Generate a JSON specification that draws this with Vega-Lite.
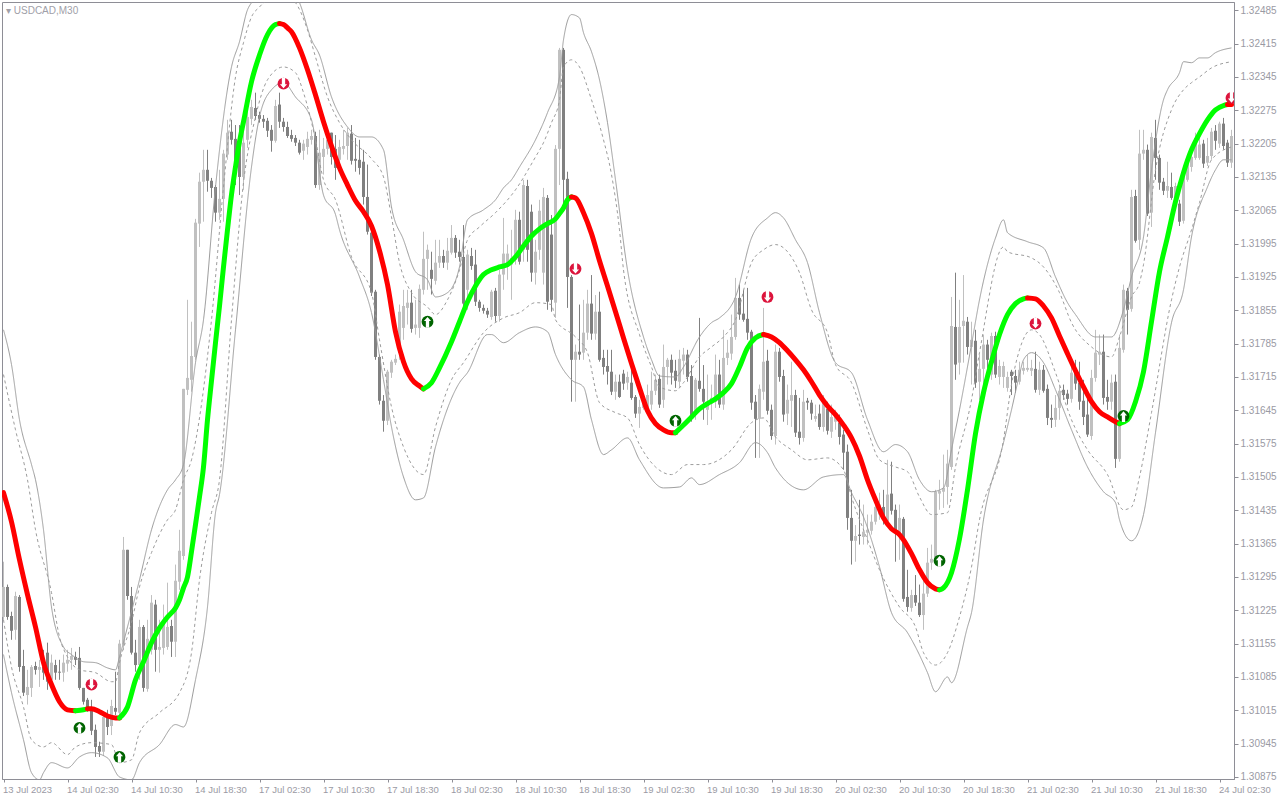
{"$schema":"https://vega.github.io/schema/vega-lite/v6.json","width":1232,"height":777,"autosize":{"type":"none"},"padding":{"left":2,"top":2,"right":46,"bottom":21},"background":"white","config":{"view":{"stroke":"#8e8e96","strokeWidth":1},"axis":{"labelOverlap":false,"labelSeparation":0}},"title":{"text":"▾  USDCAD,M30","anchor":"start","frame":"group","orient":"top","offset":-14,"dx":4,"font":"Liberation Sans","fontSize":10,"fontWeight":"normal","color":"#a0a0a8"},
"datasets":{"candles":[
{"i":0,"o":1.31211,"h":1.31327,"l":1.31205,"c":1.31274},{"i":1,"o":1.31274,"h":1.31279,"l":1.31205,"c":1.31211},{"i":2,"o":1.31213,"h":1.31222,"l":1.31163,"c":1.31182},{"i":3,"o":1.31184,"h":1.31264,"l":1.31163,"c":1.31255},{"i":4,"o":1.31253,"h":1.31257,"l":1.31096,"c":1.31106},{"i":5,"o":1.31108,"h":1.31142,"l":1.31045,"c":1.31052},{"i":6,"o":1.31047,"h":1.31100,"l":1.31027,"c":1.31064},{"i":7,"o":1.31062,"h":1.31110,"l":1.31043,"c":1.31106},{"i":8,"o":1.31108,"h":1.31117,"l":1.31090,"c":1.31100},{"i":9,"o":1.31100,"h":1.31121,"l":1.31064,"c":1.31106},
{"i":10,"o":1.31106,"h":1.31142,"l":1.31079,"c":1.31094},{"i":11,"o":1.31136,"h":1.31157,"l":1.31058,"c":1.31075},{"i":12,"o":1.31079,"h":1.31132,"l":1.31058,"c":1.31115},{"i":13,"o":1.31110,"h":1.31121,"l":1.31079,"c":1.31094},{"i":14,"o":1.31096,"h":1.31121,"l":1.31079,"c":1.31094},{"i":15,"o":1.31094,"h":1.31132,"l":1.31075,"c":1.31115},{"i":16,"o":1.31113,"h":1.31142,"l":1.31096,"c":1.31121},{"i":17,"o":1.31121,"h":1.31146,"l":1.31100,"c":1.31129},{"i":18,"o":1.31127,"h":1.31138,"l":1.31110,"c":1.31121},{"i":19,"o":1.31125,"h":1.31148,"l":1.31058,"c":1.31062},
{"i":20,"o":1.31062,"h":1.31062,"l":1.31027,"c":1.31033},{"i":21,"o":1.31037,"h":1.31041,"l":1.31012,"c":1.31016},{"i":22,"o":1.31022,"h":1.31037,"l":1.30963,"c":1.30972},{"i":23,"o":1.30974,"h":1.30985,"l":1.30917,"c":1.30938},{"i":24,"o":1.30940,"h":1.30949,"l":1.30917,"c":1.30928},{"i":25,"o":1.30928,"h":1.31012,"l":1.30919,"c":1.31001},{"i":26,"o":1.30999,"h":1.31016,"l":1.30963,"c":1.30980},{"i":27,"o":1.30982,"h":1.31037,"l":1.30963,"c":1.31024},{"i":28,"o":1.31020,"h":1.31096,"l":1.31005,"c":1.31012},{"i":29,"o":1.31010,"h":1.31163,"l":1.31001,"c":1.31155},
{"i":30,"o":1.31153,"h":1.31379,"l":1.31142,"c":1.31352},{"i":31,"o":1.31352,"h":1.31352,"l":1.31247,"c":1.31255},{"i":32,"o":1.31255,"h":1.31274,"l":1.31132,"c":1.31136},{"i":33,"o":1.31136,"h":1.31163,"l":1.31096,"c":1.31110},{"i":34,"o":1.31110,"h":1.31205,"l":1.31079,"c":1.31190},{"i":35,"o":1.31190,"h":1.31194,"l":1.31054,"c":1.31062},{"i":36,"o":1.31060,"h":1.31205,"l":1.31054,"c":1.31165},{"i":37,"o":1.31142,"h":1.31257,"l":1.31132,"c":1.31241},{"i":38,"o":1.31237,"h":1.31247,"l":1.31096,"c":1.31142},{"i":39,"o":1.31142,"h":1.31205,"l":1.31094,"c":1.31148},
{"i":40,"o":1.31146,"h":1.31237,"l":1.31132,"c":1.31205},{"i":41,"o":1.31148,"h":1.31283,"l":1.31142,"c":1.31190},{"i":42,"o":1.31192,"h":1.31205,"l":1.31127,"c":1.31159},{"i":43,"o":1.31159,"h":1.31321,"l":1.31127,"c":1.31287},{"i":44,"o":1.31285,"h":1.31394,"l":1.31268,"c":1.31350},{"i":45,"o":1.31339,"h":1.31690,"l":1.31331,"c":1.31690},{"i":46,"o":1.31688,"h":1.31877,"l":1.31677,"c":1.31713},{"i":47,"o":1.31709,"h":1.31831,"l":1.31684,"c":1.31759},{"i":48,"o":1.31757,"h":1.32047,"l":1.31751,"c":1.32039},{"i":49,"o":1.32037,"h":1.32144,"l":1.31988,"c":1.32125},
{"i":50,"o":1.32125,"h":1.32192,"l":1.32041,"c":1.32150},{"i":51,"o":1.32150,"h":1.32192,"l":1.32104,"c":1.32127},{"i":52,"o":1.32127,"h":1.32133,"l":1.32091,"c":1.32112},{"i":53,"o":1.32114,"h":1.32118,"l":1.32041,"c":1.32060},{"i":54,"o":1.32060,"h":1.32150,"l":1.32045,"c":1.32089},{"i":55,"o":1.32089,"h":1.32192,"l":1.32041,"c":1.32184},{"i":56,"o":1.32182,"h":1.32255,"l":1.32171,"c":1.32228},{"i":57,"o":1.32230,"h":1.32255,"l":1.32203,"c":1.32213},{"i":58,"o":1.32215,"h":1.32244,"l":1.32118,"c":1.32171},{"i":59,"o":1.32209,"h":1.32244,"l":1.32097,"c":1.32135},
{"i":60,"o":1.32135,"h":1.32244,"l":1.32108,"c":1.32207},{"i":61,"o":1.32213,"h":1.32297,"l":1.32196,"c":1.32261},{"i":62,"o":1.32257,"h":1.32297,"l":1.32244,"c":1.32282},{"i":63,"o":1.32280,"h":1.32312,"l":1.32255,"c":1.32263},{"i":64,"o":1.32265,"h":1.32272,"l":1.32249,"c":1.32257},{"i":65,"o":1.32257,"h":1.32265,"l":1.32238,"c":1.32251},{"i":66,"o":1.32253,"h":1.32259,"l":1.32219,"c":1.32232},{"i":67,"o":1.32234,"h":1.32244,"l":1.32188,"c":1.32211},{"i":68,"o":1.32211,"h":1.32297,"l":1.32207,"c":1.32284},{"i":69,"o":1.32287,"h":1.32312,"l":1.32238,"c":1.32251},
{"i":70,"o":1.32251,"h":1.32259,"l":1.32230,"c":1.32240},{"i":71,"o":1.32240,"h":1.32251,"l":1.32217,"c":1.32221},{"i":72,"o":1.32223,"h":1.32234,"l":1.32209,"c":1.32215},{"i":73,"o":1.32217,"h":1.32223,"l":1.32200,"c":1.32207},{"i":74,"o":1.32207,"h":1.32213,"l":1.32182,"c":1.32186},{"i":75,"o":1.32190,"h":1.32213,"l":1.32171,"c":1.32205},{"i":76,"o":1.32198,"h":1.32230,"l":1.32182,"c":1.32215},{"i":77,"o":1.32213,"h":1.32234,"l":1.32203,"c":1.32221},{"i":78,"o":1.32221,"h":1.32230,"l":1.32112,"c":1.32118},{"i":79,"o":1.32118,"h":1.32234,"l":1.32108,"c":1.32186},
{"i":80,"o":1.32177,"h":1.32217,"l":1.32140,"c":1.32194},{"i":81,"o":1.32194,"h":1.32234,"l":1.32182,"c":1.32213},{"i":82,"o":1.32228,"h":1.32228,"l":1.32161,"c":1.32177},{"i":83,"o":1.32194,"h":1.32223,"l":1.32129,"c":1.32154},{"i":84,"o":1.32171,"h":1.32213,"l":1.32146,"c":1.32198},{"i":85,"o":1.32194,"h":1.32234,"l":1.32182,"c":1.32200},{"i":86,"o":1.32200,"h":1.32238,"l":1.32171,"c":1.32228},{"i":87,"o":1.32226,"h":1.32244,"l":1.32161,"c":1.32169},{"i":88,"o":1.32173,"h":1.32217,"l":1.32146,"c":1.32169},{"i":89,"o":1.32171,"h":1.32213,"l":1.32140,"c":1.32154},
{"i":90,"o":1.32167,"h":1.32192,"l":1.32077,"c":1.32093},{"i":91,"o":1.32093,"h":1.32161,"l":1.32014,"c":1.32020},{"i":92,"o":1.32018,"h":1.32024,"l":1.31885,"c":1.31892},{"i":93,"o":1.31894,"h":1.31898,"l":1.31751,"c":1.31757},{"i":94,"o":1.31757,"h":1.31762,"l":1.31657,"c":1.31665},{"i":95,"o":1.31665,"h":1.31677,"l":1.31600,"c":1.31623},{"i":96,"o":1.31623,"h":1.31730,"l":1.31614,"c":1.31726},{"i":97,"o":1.31724,"h":1.31751,"l":1.31713,"c":1.31747},{"i":98,"o":1.31745,"h":1.31762,"l":1.31740,"c":1.31753},{"i":99,"o":1.31766,"h":1.31867,"l":1.31751,"c":1.31852},
{"i":100,"o":1.31818,"h":1.31898,"l":1.31793,"c":1.31864},{"i":101,"o":1.31860,"h":1.31898,"l":1.31825,"c":1.31871},{"i":102,"o":1.31871,"h":1.31898,"l":1.31808,"c":1.31816},{"i":103,"o":1.31818,"h":1.31877,"l":1.31804,"c":1.31825},{"i":104,"o":1.31818,"h":1.31909,"l":1.31797,"c":1.31900},{"i":105,"o":1.31898,"h":1.32020,"l":1.31888,"c":1.31963},{"i":106,"o":1.31963,"h":1.31993,"l":1.31898,"c":1.31982},{"i":107,"o":1.31940,"h":1.31978,"l":1.31888,"c":1.31921},{"i":108,"o":1.31917,"h":1.32003,"l":1.31909,"c":1.31955},{"i":109,"o":1.31955,"h":1.32003,"l":1.31944,"c":1.31969},
{"i":110,"o":1.31969,"h":1.31982,"l":1.31944,"c":1.31955},{"i":111,"o":1.31955,"h":1.32007,"l":1.31940,"c":1.31980},{"i":112,"o":1.31976,"h":1.32034,"l":1.31972,"c":1.32007},{"i":113,"o":1.32007,"h":1.32013,"l":1.31965,"c":1.31976},{"i":114,"o":1.31978,"h":1.32003,"l":1.31957,"c":1.31967},{"i":115,"o":1.31967,"h":1.32034,"l":1.31864,"c":1.31869},{"i":116,"o":1.31898,"h":1.31982,"l":1.31856,"c":1.31972},{"i":117,"o":1.31969,"h":1.31986,"l":1.31940,"c":1.31948},{"i":118,"o":1.31951,"h":1.31982,"l":1.31864,"c":1.31873},{"i":119,"o":1.31873,"h":1.31877,"l":1.31852,"c":1.31860},
{"i":120,"o":1.31860,"h":1.31867,"l":1.31848,"c":1.31854},{"i":121,"o":1.31854,"h":1.31860,"l":1.31839,"c":1.31846},{"i":122,"o":1.31841,"h":1.31898,"l":1.31835,"c":1.31894},{"i":123,"o":1.31896,"h":1.31902,"l":1.31831,"c":1.31843},{"i":124,"o":1.31843,"h":1.31940,"l":1.31831,"c":1.31930},{"i":125,"o":1.31930,"h":1.32049,"l":1.31898,"c":1.31974},{"i":126,"o":1.31946,"h":1.31993,"l":1.31919,"c":1.31974},{"i":127,"o":1.31951,"h":1.32024,"l":1.31877,"c":1.31965},{"i":128,"o":1.31961,"h":1.32066,"l":1.31951,"c":1.32045},{"i":129,"o":1.32045,"h":1.32062,"l":1.31951,"c":1.31957},
{"i":130,"o":1.31982,"h":1.32129,"l":1.31957,"c":1.32118},{"i":131,"o":1.32116,"h":1.32129,"l":1.31957,"c":1.31982},{"i":132,"o":1.32062,"h":1.32077,"l":1.31915,"c":1.31934},{"i":133,"o":1.31934,"h":1.32003,"l":1.31909,"c":1.31978},{"i":134,"o":1.31982,"h":1.32087,"l":1.31961,"c":1.32064},{"i":135,"o":1.31934,"h":1.32112,"l":1.31909,"c":1.32093},{"i":136,"o":1.32091,"h":1.32097,"l":1.31856,"c":1.31873},{"i":137,"o":1.32014,"h":1.32055,"l":1.31852,"c":1.31877},{"i":138,"o":1.31871,"h":1.32202,"l":1.31839,"c":1.32194},{"i":139,"o":1.32194,"h":1.32406,"l":1.32118,"c":1.32402},
{"i":140,"o":1.32402,"h":1.32406,"l":1.32077,"c":1.32129},{"i":141,"o":1.32131,"h":1.32146,"l":1.31860,"c":1.31925},{"i":142,"o":1.31925,"h":1.31929,"l":1.31663,"c":1.31751},{"i":143,"o":1.31751,"h":1.31783,"l":1.31663,"c":1.31768},{"i":144,"o":1.31768,"h":1.31867,"l":1.31751,"c":1.31762},{"i":145,"o":1.31766,"h":1.31877,"l":1.31751,"c":1.31808},{"i":146,"o":1.31808,"h":1.31898,"l":1.31793,"c":1.31869},{"i":147,"o":1.31869,"h":1.31929,"l":1.31793,"c":1.31806},{"i":148,"o":1.31806,"h":1.31887,"l":1.31793,"c":1.31852},{"i":149,"o":1.31852,"h":1.31894,"l":1.31747,"c":1.31751},
{"i":150,"o":1.31755,"h":1.31772,"l":1.31720,"c":1.31736},{"i":151,"o":1.31738,"h":1.31772,"l":1.31699,"c":1.31726},{"i":152,"o":1.31726,"h":1.31772,"l":1.31677,"c":1.31684},{"i":153,"o":1.31684,"h":1.31720,"l":1.31667,"c":1.31705},{"i":154,"o":1.31705,"h":1.31720,"l":1.31671,"c":1.31673},{"i":155,"o":1.31722,"h":1.31730,"l":1.31688,"c":1.31701},{"i":156,"o":1.31703,"h":1.31726,"l":1.31688,"c":1.31715},{"i":157,"o":1.31703,"h":1.31730,"l":1.31667,"c":1.31671},{"i":158,"o":1.31673,"h":1.31677,"l":1.31629,"c":1.31638},{"i":159,"o":1.31638,"h":1.31667,"l":1.31608,"c":1.31652},
{"i":160,"o":1.31650,"h":1.31677,"l":1.31646,"c":1.31661},{"i":161,"o":1.31652,"h":1.31699,"l":1.31646,"c":1.31677},{"i":162,"o":1.31657,"h":1.31726,"l":1.31646,"c":1.31686},{"i":163,"o":1.31686,"h":1.31720,"l":1.31677,"c":1.31709},{"i":164,"o":1.31711,"h":1.31720,"l":1.31650,"c":1.31657},{"i":165,"o":1.31667,"h":1.31783,"l":1.31650,"c":1.31736},{"i":166,"o":1.31736,"h":1.31755,"l":1.31699,"c":1.31751},{"i":167,"o":1.31751,"h":1.31762,"l":1.31699,"c":1.31724},{"i":168,"o":1.31728,"h":1.31751,"l":1.31692,"c":1.31707},{"i":169,"o":1.31705,"h":1.31772,"l":1.31692,"c":1.31753},
{"i":170,"o":1.31749,"h":1.31776,"l":1.31720,"c":1.31762},{"i":171,"o":1.31762,"h":1.31772,"l":1.31705,"c":1.31715},{"i":172,"o":1.31717,"h":1.31740,"l":1.31621,"c":1.31631},{"i":173,"o":1.31642,"h":1.31713,"l":1.31625,"c":1.31709},{"i":174,"o":1.31707,"h":1.31839,"l":1.31684,"c":1.31690},{"i":175,"o":1.31690,"h":1.31740,"l":1.31625,"c":1.31663},{"i":176,"o":1.31646,"h":1.31720,"l":1.31614,"c":1.31663},{"i":177,"o":1.31659,"h":1.31699,"l":1.31625,"c":1.31671},{"i":178,"o":1.31663,"h":1.31762,"l":1.31650,"c":1.31720},{"i":179,"o":1.31720,"h":1.31751,"l":1.31650,"c":1.31657},
{"i":180,"o":1.31657,"h":1.31814,"l":1.31646,"c":1.31755},{"i":181,"o":1.31755,"h":1.31793,"l":1.31740,"c":1.31766},{"i":182,"o":1.31764,"h":1.31846,"l":1.31751,"c":1.31799},{"i":183,"o":1.31799,"h":1.31923,"l":1.31793,"c":1.31881},{"i":184,"o":1.31881,"h":1.31909,"l":1.31835,"c":1.31846},{"i":185,"o":1.31848,"h":1.31898,"l":1.31831,"c":1.31835},{"i":186,"o":1.31837,"h":1.31902,"l":1.31793,"c":1.31808},{"i":187,"o":1.31810,"h":1.31814,"l":1.31646,"c":1.31661},{"i":188,"o":1.31663,"h":1.31677,"l":1.31545,"c":1.31627},{"i":189,"o":1.31627,"h":1.31699,"l":1.31545,"c":1.31690},
{"i":190,"o":1.31684,"h":1.31860,"l":1.31667,"c":1.31747},{"i":191,"o":1.31749,"h":1.31772,"l":1.31636,"c":1.31644},{"i":192,"o":1.31646,"h":1.31657,"l":1.31583,"c":1.31591},{"i":193,"o":1.31591,"h":1.31783,"l":1.31573,"c":1.31768},{"i":194,"o":1.31768,"h":1.31776,"l":1.31705,"c":1.31715},{"i":195,"o":1.31717,"h":1.31730,"l":1.31621,"c":1.31636},{"i":196,"o":1.31638,"h":1.31699,"l":1.31614,"c":1.31667},{"i":197,"o":1.31665,"h":1.31747,"l":1.31610,"c":1.31677},{"i":198,"o":1.31677,"h":1.31688,"l":1.31589,"c":1.31598},{"i":199,"o":1.31600,"h":1.31671,"l":1.31573,"c":1.31587},
{"i":200,"o":1.31587,"h":1.31688,"l":1.31579,"c":1.31663},{"i":201,"o":1.31665,"h":1.31671,"l":1.31646,"c":1.31661},{"i":202,"o":1.31661,"h":1.31667,"l":1.31625,"c":1.31638},{"i":203,"o":1.31627,"h":1.31657,"l":1.31621,"c":1.31633},{"i":204,"o":1.31638,"h":1.31657,"l":1.31604,"c":1.31610},{"i":205,"o":1.31610,"h":1.31677,"l":1.31600,"c":1.31661},{"i":206,"o":1.31648,"h":1.31663,"l":1.31594,"c":1.31602},{"i":207,"o":1.31600,"h":1.31657,"l":1.31587,"c":1.31631},{"i":208,"o":1.31621,"h":1.31646,"l":1.31604,"c":1.31631},{"i":209,"o":1.31619,"h":1.31636,"l":1.31573,"c":1.31589},
{"i":210,"o":1.31594,"h":1.31604,"l":1.31520,"c":1.31556},{"i":211,"o":1.31558,"h":1.31573,"l":1.31394,"c":1.31419},{"i":212,"o":1.31419,"h":1.31478,"l":1.31321,"c":1.31371},{"i":213,"o":1.31371,"h":1.31404,"l":1.31327,"c":1.31381},{"i":214,"o":1.31384,"h":1.31457,"l":1.31363,"c":1.31381},{"i":215,"o":1.31379,"h":1.31447,"l":1.31363,"c":1.31390},{"i":216,"o":1.31388,"h":1.31426,"l":1.31363,"c":1.31394},{"i":217,"o":1.31392,"h":1.31426,"l":1.31384,"c":1.31411},{"i":218,"o":1.31411,"h":1.31468,"l":1.31405,"c":1.31442},{"i":219,"o":1.31426,"h":1.31472,"l":1.31415,"c":1.31447},
{"i":220,"o":1.31442,"h":1.31478,"l":1.31405,"c":1.31415},{"i":221,"o":1.31411,"h":1.31541,"l":1.31402,"c":1.31468},{"i":222,"o":1.31470,"h":1.31537,"l":1.31426,"c":1.31434},{"i":223,"o":1.31436,"h":1.31447,"l":1.31327,"c":1.31390},{"i":224,"o":1.31379,"h":1.31447,"l":1.31331,"c":1.31419},{"i":225,"o":1.31417,"h":1.31421,"l":1.31243,"c":1.31249},{"i":226,"o":1.31253,"h":1.31310,"l":1.31222,"c":1.31232},{"i":227,"o":1.31230,"h":1.31268,"l":1.31222,"c":1.31257},{"i":228,"o":1.31257,"h":1.31299,"l":1.31234,"c":1.31241},{"i":229,"o":1.31241,"h":1.31279,"l":1.31211,"c":1.31215},
{"i":230,"o":1.31215,"h":1.31299,"l":1.31184,"c":1.31260},{"i":231,"o":1.31260,"h":1.31356,"l":1.31253,"c":1.31325},{"i":232,"o":1.31325,"h":1.31363,"l":1.31310,"c":1.31333},{"i":233,"o":1.31331,"h":1.31478,"l":1.31327,"c":1.31474},{"i":234,"o":1.31470,"h":1.31499,"l":1.31436,"c":1.31476},{"i":235,"o":1.31474,"h":1.31552,"l":1.31440,"c":1.31482},{"i":236,"o":1.31484,"h":1.31562,"l":1.31447,"c":1.31533},{"i":237,"o":1.31526,"h":1.31883,"l":1.31520,"c":1.31822},{"i":238,"o":1.31820,"h":1.31934,"l":1.31709,"c":1.31741},{"i":239,"o":1.31745,"h":1.31877,"l":1.31720,"c":1.31820},
{"i":240,"o":1.31822,"h":1.31929,"l":1.31745,"c":1.31833},{"i":241,"o":1.31831,"h":1.31841,"l":1.31762,"c":1.31778},{"i":242,"o":1.31778,"h":1.31831,"l":1.31699,"c":1.31793},{"i":243,"o":1.31791,"h":1.31814,"l":1.31692,"c":1.31703},{"i":244,"o":1.31705,"h":1.31762,"l":1.31667,"c":1.31732},{"i":245,"o":1.31732,"h":1.31804,"l":1.31699,"c":1.31783},{"i":246,"o":1.31783,"h":1.31793,"l":1.31734,"c":1.31751},{"i":247,"o":1.31720,"h":1.31808,"l":1.31709,"c":1.31801},{"i":248,"o":1.31801,"h":1.31810,"l":1.31713,"c":1.31720},{"i":249,"o":1.31715,"h":1.31751,"l":1.31699,"c":1.31738},
{"i":250,"o":1.31715,"h":1.31747,"l":1.31692,"c":1.31738},{"i":251,"o":1.31692,"h":1.31726,"l":1.31684,"c":1.31715},{"i":252,"o":1.31726,"h":1.31730,"l":1.31677,"c":1.31717},{"i":253,"o":1.31717,"h":1.31730,"l":1.31682,"c":1.31703},{"i":254,"o":1.31705,"h":1.31747,"l":1.31699,"c":1.31730},{"i":255,"o":1.31728,"h":1.31747,"l":1.31720,"c":1.31734},{"i":256,"o":1.31730,"h":1.31762,"l":1.31726,"c":1.31734},{"i":257,"o":1.31728,"h":1.31751,"l":1.31717,"c":1.31734},{"i":258,"o":1.31732,"h":1.31768,"l":1.31682,"c":1.31688},{"i":259,"o":1.31688,"h":1.31747,"l":1.31677,"c":1.31730},
{"i":260,"o":1.31730,"h":1.31740,"l":1.31682,"c":1.31686},{"i":261,"o":1.31690,"h":1.31699,"l":1.31614,"c":1.31629},{"i":262,"o":1.31629,"h":1.31657,"l":1.31608,"c":1.31625},{"i":263,"o":1.31625,"h":1.31677,"l":1.31610,"c":1.31650},{"i":264,"o":1.31650,"h":1.31699,"l":1.31625,"c":1.31686},{"i":265,"o":1.31688,"h":1.31699,"l":1.31667,"c":1.31677},{"i":266,"o":1.31680,"h":1.31688,"l":1.31657,"c":1.31669},{"i":267,"o":1.31669,"h":1.31740,"l":1.31661,"c":1.31724},{"i":268,"o":1.31724,"h":1.31751,"l":1.31688,"c":1.31701},{"i":269,"o":1.31703,"h":1.31747,"l":1.31646,"c":1.31663},
{"i":270,"o":1.31665,"h":1.31709,"l":1.31614,"c":1.31631},{"i":271,"o":1.31636,"h":1.31677,"l":1.31589,"c":1.31594},{"i":272,"o":1.31591,"h":1.31730,"l":1.31583,"c":1.31713},{"i":273,"o":1.31713,"h":1.31814,"l":1.31705,"c":1.31766},{"i":274,"o":1.31762,"h":1.31804,"l":1.31740,"c":1.31768},{"i":275,"o":1.31768,"h":1.31804,"l":1.31657,"c":1.31671},{"i":276,"o":1.31673,"h":1.31709,"l":1.31646,"c":1.31663},{"i":277,"o":1.31663,"h":1.31720,"l":1.31646,"c":1.31703},{"i":278,"o":1.31705,"h":1.31720,"l":1.31524,"c":1.31543},{"i":279,"o":1.31543,"h":1.31804,"l":1.31537,"c":1.31776},
{"i":280,"o":1.31772,"h":1.31909,"l":1.31766,"c":1.31898},{"i":281,"o":1.31896,"h":1.31902,"l":1.31804,"c":1.31856},{"i":282,"o":1.31858,"h":1.32108,"l":1.31852,"c":1.32093},{"i":283,"o":1.32095,"h":1.32108,"l":1.31997,"c":1.32001},{"i":284,"o":1.32003,"h":1.32234,"l":1.31982,"c":1.32184},{"i":285,"o":1.32184,"h":1.32234,"l":1.32171,"c":1.32192},{"i":286,"o":1.32192,"h":1.32203,"l":1.32053,"c":1.32058},{"i":287,"o":1.32060,"h":1.32228,"l":1.32030,"c":1.32219},{"i":288,"o":1.32217,"h":1.32255,"l":1.32129,"c":1.32175},{"i":289,"o":1.32175,"h":1.32182,"l":1.32108,"c":1.32123},
{"i":290,"o":1.32125,"h":1.32133,"l":1.32097,"c":1.32106},{"i":291,"o":1.32106,"h":1.32167,"l":1.32091,"c":1.32116},{"i":292,"o":1.32114,"h":1.32144,"l":1.32087,"c":1.32091},{"i":293,"o":1.32077,"h":1.32123,"l":1.32066,"c":1.32116},{"i":294,"o":1.32079,"h":1.32087,"l":1.32032,"c":1.32041},{"i":295,"o":1.32043,"h":1.32146,"l":1.32037,"c":1.32135},{"i":296,"o":1.32129,"h":1.32175,"l":1.32125,"c":1.32167},{"i":297,"o":1.32156,"h":1.32192,"l":1.32146,"c":1.32177},{"i":298,"o":1.32175,"h":1.32228,"l":1.32171,"c":1.32217},{"i":299,"o":1.32175,"h":1.32228,"l":1.32171,"c":1.32203},
{"i":300,"o":1.32205,"h":1.32213,"l":1.32154,"c":1.32163},{"i":301,"o":1.32165,"h":1.32217,"l":1.32158,"c":1.32179},{"i":302,"o":1.32179,"h":1.32238,"l":1.32171,"c":1.32230},{"i":303,"o":1.32232,"h":1.32244,"l":1.32192,"c":1.32211},{"i":304,"o":1.32205,"h":1.32251,"l":1.32196,"c":1.32247},{"i":305,"o":1.32247,"h":1.32259,"l":1.32192,"c":1.32200},{"i":306,"o":1.32207,"h":1.32213,"l":1.32156,"c":1.32165},{"i":307,"o":1.32165,"h":1.32234,"l":1.32154,"c":1.32221}
],
"bands":[
{"s":"uo","i":0,"v":1.31814},{"s":"uo","i":2,"v":1.31741},{"s":"uo","i":4,"v":1.31625},{"s":"uo","i":7,"v":1.31531},{"s":"uo","i":8,"v":1.31499},{"s":"uo","i":10,"v":1.31394},{"s":"uo","i":12,"v":1.31232},{"s":"uo","i":15,"v":1.31148},{"s":"uo","i":17,"v":1.31132},{"s":"uo","i":20,"v":1.31117},{"s":"uo","i":23,"v":1.31115},{"s":"uo","i":26,"v":1.31104},{"s":"uo","i":28,"v":1.31100},{"s":"uo","i":29,"v":1.31127},{"s":"uo","i":31,"v":1.31190},{"s":"uo","i":34,"v":1.31289},{"s":"uo","i":37,"v":1.31394},{"s":"uo","i":41,"v":1.31478},{"s":"uo","i":43,"v":1.31499},{"s":"uo","i":45,"v":1.31531},{"s":"uo","i":48,"v":1.31745},{"s":"uo","i":50,"v":1.31835},{"s":"uo","i":53,"v":1.32114},{"s":"uo","i":57,"v":1.32366},{"s":"uo","i":59,"v":1.32419},{"s":"uo","i":61,"v":1.32486},{"s":"uo","i":62,"v":1.32501},{"s":"uo","i":65,"v":1.32528},{"s":"uo","i":68,"v":1.32549},{"s":"uo","i":72,"v":1.32532},{"s":"uo","i":74,"v":1.32501},{"s":"uo","i":77,"v":1.32423},{"s":"uo","i":79,"v":1.32391},{"s":"uo","i":82,"v":1.32303},{"s":"uo","i":86,"v":1.32240},{"s":"uo","i":89,"v":1.32219},{"s":"uo","i":92,"v":1.32219},{"s":"uo","i":95,"v":1.32192},{"s":"uo","i":97,"v":1.32072},{"s":"uo","i":100,"v":1.32003},{"s":"uo","i":103,"v":1.31936},{"s":"uo","i":106,"v":1.31919},{"s":"uo","i":108,"v":1.31883},{"s":"uo","i":111,"v":1.31892},{"s":"uo","i":114,"v":1.31946},{"s":"uo","i":116,"v":1.32045},{"s":"uo","i":120,"v":1.32066},{"s":"uo","i":123,"v":1.32087},{"s":"uo","i":125,"v":1.32112},{"s":"uo","i":127,"v":1.32129},{"s":"uo","i":129,"v":1.32156},{"s":"uo","i":133,"v":1.32213},{"s":"uo","i":136,"v":1.32270},{"s":"uo","i":139,"v":1.32345},{"s":"uo","i":140,"v":1.32423},{"s":"uo","i":142,"v":1.32476},{"s":"uo","i":144,"v":1.32469},{"s":"uo","i":145,"v":1.32438},{"s":"uo","i":147,"v":1.32398},{"s":"uo","i":149,"v":1.32339},{"s":"uo","i":151,"v":1.32249},{"s":"uo","i":153,"v":1.32129},{"s":"uo","i":156,"v":1.31940},{"s":"uo","i":160,"v":1.31799},{"s":"uo","i":162,"v":1.31751},{"s":"uo","i":164,"v":1.31717},{"s":"uo","i":168,"v":1.31715},{"s":"uo","i":170,"v":1.31736},{"s":"uo","i":174,"v":1.31799},{"s":"uo","i":177,"v":1.31829},{"s":"uo","i":179,"v":1.31839},{"s":"uo","i":183,"v":1.31883},{"s":"uo","i":187,"v":1.32007},{"s":"uo","i":191,"v":1.32049},{"s":"uo","i":193,"v":1.32060},{"s":"uo","i":195,"v":1.32049},{"s":"uo","i":198,"v":1.32003},{"s":"uo","i":201,"v":1.31955},{"s":"uo","i":204,"v":1.31850},{"s":"uo","i":208,"v":1.31745},{"s":"uo","i":212,"v":1.31724},{"s":"uo","i":216,"v":1.31625},{"s":"uo","i":220,"v":1.31558},{"s":"uo","i":223,"v":1.31573},{"s":"uo","i":226,"v":1.31558},{"s":"uo","i":229,"v":1.31499},{"s":"uo","i":232,"v":1.31474},{"s":"uo","i":235,"v":1.31482},{"s":"uo","i":237,"v":1.31562},{"s":"uo","i":239,"v":1.31646},{"s":"uo","i":242,"v":1.31783},{"s":"uo","i":244,"v":1.31877},{"s":"uo","i":248,"v":1.32007},{"s":"uo","i":250,"v":1.32045},{"s":"uo","i":251,"v":1.32018},{"s":"uo","i":256,"v":1.31999},{"s":"uo","i":260,"v":1.31986},{"s":"uo","i":263,"v":1.31925},{"s":"uo","i":266,"v":1.31871},{"s":"uo","i":268,"v":1.31846},{"s":"uo","i":273,"v":1.31799},{"s":"uo","i":277,"v":1.31799},{"s":"uo","i":280,"v":1.31856},{"s":"uo","i":282,"v":1.31925},{"s":"uo","i":285,"v":1.32009},{"s":"uo","i":287,"v":1.32150},{"s":"uo","i":290,"v":1.32297},{"s":"uo","i":291,"v":1.32318},{"s":"uo","i":294,"v":1.32354},{"s":"uo","i":295,"v":1.32377},{"s":"uo","i":297,"v":1.32375},{"s":"uo","i":299,"v":1.32385},{"s":"uo","i":301,"v":1.32385},{"s":"uo","i":303,"v":1.32396},{"s":"uo","i":307,"v":1.32406},
{"s":"ui","i":0,"v":1.31720},{"s":"ui","i":3,"v":1.31604},{"s":"ui","i":6,"v":1.31499},{"s":"ui","i":8,"v":1.31394},{"s":"ui","i":12,"v":1.31262},{"s":"ui","i":14,"v":1.31169},{"s":"ui","i":16,"v":1.31127},{"s":"ui","i":19,"v":1.31100},{"s":"ui","i":23,"v":1.31094},{"s":"ui","i":27,"v":1.31075},{"s":"ui","i":28,"v":1.31075},{"s":"ui","i":29,"v":1.31115},{"s":"ui","i":32,"v":1.31199},{"s":"ui","i":34,"v":1.31274},{"s":"ui","i":37,"v":1.31346},{"s":"ui","i":41,"v":1.31415},{"s":"ui","i":43,"v":1.31436},{"s":"ui","i":45,"v":1.31499},{"s":"ui","i":47,"v":1.31541},{"s":"ui","i":52,"v":1.31835},{"s":"ui","i":55,"v":1.32114},{"s":"ui","i":58,"v":1.32345},{"s":"ui","i":60,"v":1.32417},{"s":"ui","i":62,"v":1.32471},{"s":"ui","i":64,"v":1.32492},{"s":"ui","i":67,"v":1.32513},{"s":"ui","i":70,"v":1.32518},{"s":"ui","i":73,"v":1.32501},{"s":"ui","i":76,"v":1.32444},{"s":"ui","i":78,"v":1.32387},{"s":"ui","i":81,"v":1.32303},{"s":"ui","i":84,"v":1.32249},{"s":"ui","i":87,"v":1.32213},{"s":"ui","i":92,"v":1.32173},{"s":"ui","i":95,"v":1.32135},{"s":"ui","i":97,"v":1.32051},{"s":"ui","i":99,"v":1.31955},{"s":"ui","i":102,"v":1.31892},{"s":"ui","i":106,"v":1.31862},{"s":"ui","i":108,"v":1.31846},{"s":"ui","i":111,"v":1.31877},{"s":"ui","i":114,"v":1.31940},{"s":"ui","i":116,"v":1.32003},{"s":"ui","i":119,"v":1.32030},{"s":"ui","i":123,"v":1.32060},{"s":"ui","i":128,"v":1.32108},{"s":"ui","i":133,"v":1.32177},{"s":"ui","i":135,"v":1.32207},{"s":"ui","i":137,"v":1.32249},{"s":"ui","i":139,"v":1.32297},{"s":"ui","i":140,"v":1.32366},{"s":"ui","i":142,"v":1.32381},{"s":"ui","i":144,"v":1.32366},{"s":"ui","i":147,"v":1.32297},{"s":"ui","i":150,"v":1.32213},{"s":"ui","i":152,"v":1.32140},{"s":"ui","i":154,"v":1.32024},{"s":"ui","i":155,"v":1.31940},{"s":"ui","i":159,"v":1.31804},{"s":"ui","i":162,"v":1.31736},{"s":"ui","i":164,"v":1.31694},{"s":"ui","i":168,"v":1.31686},{"s":"ui","i":170,"v":1.31703},{"s":"ui","i":174,"v":1.31757},{"s":"ui","i":177,"v":1.31778},{"s":"ui","i":180,"v":1.31799},{"s":"ui","i":183,"v":1.31835},{"s":"ui","i":187,"v":1.31955},{"s":"ui","i":190,"v":1.31982},{"s":"ui","i":193,"v":1.31993},{"s":"ui","i":196,"v":1.31978},{"s":"ui","i":199,"v":1.31934},{"s":"ui","i":202,"v":1.31856},{"s":"ui","i":206,"v":1.31808},{"s":"ui","i":208,"v":1.31741},{"s":"ui","i":212,"v":1.31703},{"s":"ui","i":216,"v":1.31604},{"s":"ui","i":219,"v":1.31541},{"s":"ui","i":223,"v":1.31526},{"s":"ui","i":226,"v":1.31516},{"s":"ui","i":229,"v":1.31463},{"s":"ui","i":232,"v":1.31426},{"s":"ui","i":236,"v":1.31430},{"s":"ui","i":238,"v":1.31526},{"s":"ui","i":242,"v":1.31667},{"s":"ui","i":244,"v":1.31766},{"s":"ui","i":250,"v":1.31988},{"s":"ui","i":251,"v":1.31978},{"s":"ui","i":257,"v":1.31965},{"s":"ui","i":260,"v":1.31946},{"s":"ui","i":264,"v":1.31892},{"s":"ui","i":267,"v":1.31829},{"s":"ui","i":272,"v":1.31778},{"s":"ui","i":277,"v":1.31757},{"s":"ui","i":279,"v":1.31799},{"s":"ui","i":282,"v":1.31883},{"s":"ui","i":284,"v":1.31913},{"s":"ui","i":285,"v":1.31951},{"s":"ui","i":288,"v":1.32150},{"s":"ui","i":292,"v":1.32276},{"s":"ui","i":295,"v":1.32318},{"s":"ui","i":297,"v":1.32333},{"s":"ui","i":299,"v":1.32345},{"s":"ui","i":302,"v":1.32364},{"s":"ui","i":307,"v":1.32377},
{"s":"li","i":0,"v":1.31205},{"s":"li","i":2,"v":1.31106},{"s":"li","i":5,"v":1.31022},{"s":"li","i":7,"v":1.30953},{"s":"li","i":10,"v":1.30938},{"s":"li","i":12,"v":1.30947},{"s":"li","i":16,"v":1.30922},{"s":"li","i":18,"v":1.30938},{"s":"li","i":22,"v":1.30947},{"s":"li","i":27,"v":1.30943},{"s":"li","i":29,"v":1.30905},{"s":"li","i":32,"v":1.30911},{"s":"li","i":34,"v":1.30968},{"s":"li","i":39,"v":1.31010},{"s":"li","i":44,"v":1.31052},{"s":"li","i":47,"v":1.31136},{"s":"li","i":49,"v":1.31289},{"s":"li","i":52,"v":1.31430},{"s":"li","i":54,"v":1.31499},{"s":"li","i":57,"v":1.31835},{"s":"li","i":60,"v":1.32123},{"s":"li","i":63,"v":1.32261},{"s":"li","i":66,"v":1.32339},{"s":"li","i":70,"v":1.32366},{"s":"li","i":73,"v":1.32354},{"s":"li","i":75,"v":1.32312},{"s":"li","i":78,"v":1.32213},{"s":"li","i":80,"v":1.32129},{"s":"li","i":83,"v":1.32087},{"s":"li","i":87,"v":1.31967},{"s":"li","i":92,"v":1.31892},{"s":"li","i":94,"v":1.31793},{"s":"li","i":97,"v":1.31652},{"s":"li","i":100,"v":1.31568},{"s":"li","i":105,"v":1.31510},{"s":"li","i":108,"v":1.31610},{"s":"li","i":112,"v":1.31709},{"s":"li","i":115,"v":1.31745},{"s":"li","i":120,"v":1.31808},{"s":"li","i":125,"v":1.31839},{"s":"li","i":129,"v":1.31850},{"s":"li","i":133,"v":1.31871},{"s":"li","i":137,"v":1.31867},{"s":"li","i":138,"v":1.31835},{"s":"li","i":143,"v":1.31799},{"s":"li","i":146,"v":1.31766},{"s":"li","i":149,"v":1.31661},{"s":"li","i":153,"v":1.31640},{"s":"li","i":156,"v":1.31629},{"s":"li","i":159,"v":1.31573},{"s":"li","i":163,"v":1.31526},{"s":"li","i":167,"v":1.31510},{"s":"li","i":171,"v":1.31531},{"s":"li","i":175,"v":1.31531},{"s":"li","i":182,"v":1.31562},{"s":"li","i":187,"v":1.31619},{"s":"li","i":190,"v":1.31629},{"s":"li","i":193,"v":1.31589},{"s":"li","i":197,"v":1.31562},{"s":"li","i":201,"v":1.31541},{"s":"li","i":206,"v":1.31545},{"s":"li","i":210,"v":1.31520},{"s":"li","i":212,"v":1.31463},{"s":"li","i":216,"v":1.31373},{"s":"li","i":219,"v":1.31310},{"s":"li","i":224,"v":1.31232},{"s":"li","i":228,"v":1.31190},{"s":"li","i":230,"v":1.31136},{"s":"li","i":233,"v":1.31110},{"s":"li","i":236,"v":1.31136},{"s":"li","i":239,"v":1.31211},{"s":"li","i":242,"v":1.31316},{"s":"li","i":244,"v":1.31415},{"s":"li","i":250,"v":1.31583},{"s":"li","i":252,"v":1.31699},{"s":"li","i":254,"v":1.31772},{"s":"li","i":257,"v":1.31814},{"s":"li","i":259,"v":1.31804},{"s":"li","i":263,"v":1.31724},{"s":"li","i":267,"v":1.31625},{"s":"li","i":271,"v":1.31562},{"s":"li","i":276,"v":1.31510},{"s":"li","i":280,"v":1.31436},{"s":"li","i":282,"v":1.31442},{"s":"li","i":284,"v":1.31505},{"s":"li","i":287,"v":1.31640},{"s":"li","i":292,"v":1.31877},{"s":"li","i":294,"v":1.31946},{"s":"li","i":297,"v":1.32024},{"s":"li","i":299,"v":1.32081},{"s":"li","i":302,"v":1.32171},{"s":"li","i":307,"v":1.32198},
{"s":"lo","i":0,"v":1.31132},{"s":"lo","i":2,"v":1.31052},{"s":"lo","i":5,"v":1.30953},{"s":"lo","i":7,"v":1.30884},{"s":"lo","i":9,"v":1.30869},{"s":"lo","i":10,"v":1.30884},{"s":"lo","i":12,"v":1.30905},{"s":"lo","i":16,"v":1.30894},{"s":"lo","i":19,"v":1.30917},{"s":"lo","i":22,"v":1.30926},{"s":"lo","i":26,"v":1.30915},{"s":"lo","i":29,"v":1.30875},{"s":"lo","i":32,"v":1.30869},{"s":"lo","i":34,"v":1.30905},{"s":"lo","i":39,"v":1.30943},{"s":"lo","i":43,"v":1.30985},{"s":"lo","i":45,"v":1.30980},{"s":"lo","i":48,"v":1.31079},{"s":"lo","i":51,"v":1.31232},{"s":"lo","i":53,"v":1.31430},{"s":"lo","i":54,"v":1.31468},{"s":"lo","i":58,"v":1.31814},{"s":"lo","i":62,"v":1.32156},{"s":"lo","i":64,"v":1.32261},{"s":"lo","i":67,"v":1.32318},{"s":"lo","i":70,"v":1.32333},{"s":"lo","i":73,"v":1.32303},{"s":"lo","i":77,"v":1.32255},{"s":"lo","i":80,"v":1.32097},{"s":"lo","i":83,"v":1.32056},{"s":"lo","i":84,"v":1.32024},{"s":"lo","i":89,"v":1.31925},{"s":"lo","i":92,"v":1.31850},{"s":"lo","i":95,"v":1.31709},{"s":"lo","i":97,"v":1.31610},{"s":"lo","i":100,"v":1.31505},{"s":"lo","i":103,"v":1.31457},{"s":"lo","i":105,"v":1.31461},{"s":"lo","i":108,"v":1.31568},{"s":"lo","i":114,"v":1.31703},{"s":"lo","i":116,"v":1.31724},{"s":"lo","i":121,"v":1.31804},{"s":"lo","i":122,"v":1.31804},{"s":"lo","i":125,"v":1.31787},{"s":"lo","i":129,"v":1.31808},{"s":"lo","i":133,"v":1.31820},{"s":"lo","i":136,"v":1.31810},{"s":"lo","i":138,"v":1.31762},{"s":"lo","i":142,"v":1.31709},{"s":"lo","i":145,"v":1.31694},{"s":"lo","i":147,"v":1.31625},{"s":"lo","i":150,"v":1.31552},{"s":"lo","i":152,"v":1.31562},{"s":"lo","i":156,"v":1.31587},{"s":"lo","i":159,"v":1.31541},{"s":"lo","i":165,"v":1.31482},{"s":"lo","i":169,"v":1.31484},{"s":"lo","i":172,"v":1.31503},{"s":"lo","i":174,"v":1.31489},{"s":"lo","i":179,"v":1.31510},{"s":"lo","i":184,"v":1.31535},{"s":"lo","i":188,"v":1.31577},{"s":"lo","i":191,"v":1.31556},{"s":"lo","i":193,"v":1.31524},{"s":"lo","i":200,"v":1.31478},{"s":"lo","i":205,"v":1.31505},{"s":"lo","i":210,"v":1.31510},{"s":"lo","i":212,"v":1.31472},{"s":"lo","i":215,"v":1.31421},{"s":"lo","i":219,"v":1.31316},{"s":"lo","i":222,"v":1.31220},{"s":"lo","i":226,"v":1.31178},{"s":"lo","i":228,"v":1.31148},{"s":"lo","i":231,"v":1.31094},{"s":"lo","i":233,"v":1.31054},{"s":"lo","i":236,"v":1.31085},{"s":"lo","i":237,"v":1.31073},{"s":"lo","i":241,"v":1.31190},{"s":"lo","i":242,"v":1.31220},{"s":"lo","i":245,"v":1.31415},{"s":"lo","i":250,"v":1.31577},{"s":"lo","i":252,"v":1.31646},{"s":"lo","i":254,"v":1.31720},{"s":"lo","i":255,"v":1.31751},{"s":"lo","i":257,"v":1.31766},{"s":"lo","i":260,"v":1.31745},{"s":"lo","i":263,"v":1.31688},{"s":"lo","i":267,"v":1.31604},{"s":"lo","i":271,"v":1.31526},{"s":"lo","i":275,"v":1.31474},{"s":"lo","i":278,"v":1.31451},{"s":"lo","i":279,"v":1.31415},{"s":"lo","i":282,"v":1.31371},{"s":"lo","i":283,"v":1.31377},{"s":"lo","i":285,"v":1.31426},{"s":"lo","i":288,"v":1.31598},{"s":"lo","i":292,"v":1.31829},{"s":"lo","i":295,"v":1.31898},{"s":"lo","i":297,"v":1.32009},{"s":"lo","i":301,"v":1.32114},{"s":"lo","i":303,"v":1.32150},{"s":"lo","i":305,"v":1.32171},{"s":"lo","i":307,"v":1.32171}
],
"main":[
{"g":1,"d":"r","i":0,"v":1.31472},{"g":1,"d":"r","i":2,"v":1.31411},{"g":1,"d":"r","i":4,"v":1.31331},{"g":1,"d":"r","i":6,"v":1.31258},{"g":1,"d":"r","i":8,"v":1.31190},{"g":1,"d":"r","i":10,"v":1.31115},{"g":1,"d":"r","i":12,"v":1.31069},{"g":1,"d":"r","i":14,"v":1.31033},{"g":1,"d":"r","i":16,"v":1.31016},{"g":1,"d":"r","i":18,"v":1.31014},
{"g":2,"d":"g","i":18,"v":1.31014},{"g":2,"d":"g","i":20,"v":1.31016},{"g":2,"d":"g","i":21,"v":1.31018},
{"g":3,"d":"r","i":21,"v":1.31018},{"g":3,"d":"r","i":22,"v":1.31018},{"g":3,"d":"r","i":24,"v":1.31012},{"g":3,"d":"r","i":26,"v":1.31003},{"g":3,"d":"r","i":28,"v":1.30999},{"g":3,"d":"r","i":29,"v":1.30999},
{"g":4,"d":"g","i":29,"v":1.30999},{"g":4,"d":"g","i":31,"v":1.31022},{"g":4,"d":"g","i":33,"v":1.31079},{"g":4,"d":"g","i":35,"v":1.31117},{"g":4,"d":"g","i":37,"v":1.31157},{"g":4,"d":"g","i":39,"v":1.31188},{"g":4,"d":"g","i":41,"v":1.31211},{"g":4,"d":"g","i":43,"v":1.31230},{"g":4,"d":"g","i":44,"v":1.31247},{"g":4,"d":"g","i":45,"v":1.31272},{"g":4,"d":"g","i":46,"v":1.31295},{"g":4,"d":"g","i":47,"v":1.31348},{"g":4,"d":"g","i":48,"v":1.31405},{"g":4,"d":"g","i":49,"v":1.31463},{"g":4,"d":"g","i":50,"v":1.31526},{"g":4,"d":"g","i":51,"v":1.31625},{"g":4,"d":"g","i":52,"v":1.31707},{"g":4,"d":"g","i":53,"v":1.31787},{"g":4,"d":"g","i":54,"v":1.31864},{"g":4,"d":"g","i":55,"v":1.31946},{"g":4,"d":"g","i":56,"v":1.32024},{"g":4,"d":"g","i":57,"v":1.32098},{"g":4,"d":"g","i":58,"v":1.32156},{"g":4,"d":"g","i":59,"v":1.32209},{"g":4,"d":"g","i":60,"v":1.32251},{"g":4,"d":"g","i":62,"v":1.32335},{"g":4,"d":"g","i":64,"v":1.32391},{"g":4,"d":"g","i":66,"v":1.32434},{"g":4,"d":"g","i":68,"v":1.32455},{"g":4,"d":"g","i":69,"v":1.32457},
{"g":5,"d":"r","i":69,"v":1.32457},{"g":5,"d":"r","i":70,"v":1.32455},{"g":5,"d":"r","i":71,"v":1.32448},{"g":5,"d":"r","i":72,"v":1.32440},{"g":5,"d":"r","i":74,"v":1.32406},{"g":5,"d":"r","i":76,"v":1.32360},{"g":5,"d":"r","i":78,"v":1.32307},{"g":5,"d":"r","i":80,"v":1.32251},{"g":5,"d":"r","i":82,"v":1.32200},{"g":5,"d":"r","i":84,"v":1.32154},{"g":5,"d":"r","i":86,"v":1.32118},{"g":5,"d":"r","i":88,"v":1.32085},{"g":5,"d":"r","i":90,"v":1.32062},{"g":5,"d":"r","i":92,"v":1.32032},{"g":5,"d":"r","i":94,"v":1.31980},{"g":5,"d":"r","i":96,"v":1.31909},{"g":5,"d":"r","i":98,"v":1.31810},{"g":5,"d":"r","i":100,"v":1.31747},{"g":5,"d":"r","i":102,"v":1.31711},{"g":5,"d":"r","i":104,"v":1.31696},{"g":5,"d":"r","i":105,"v":1.31690},
{"g":6,"d":"g","i":105,"v":1.31690},{"g":6,"d":"g","i":107,"v":1.31703},{"g":6,"d":"g","i":109,"v":1.31734},{"g":6,"d":"g","i":112,"v":1.31789},{"g":6,"d":"g","i":114,"v":1.31831},{"g":6,"d":"g","i":116,"v":1.31873},{"g":6,"d":"g","i":118,"v":1.31906},{"g":6,"d":"g","i":120,"v":1.31930},{"g":6,"d":"g","i":122,"v":1.31940},{"g":6,"d":"g","i":124,"v":1.31946},{"g":6,"d":"g","i":126,"v":1.31951},{"g":6,"d":"g","i":128,"v":1.31967},{"g":6,"d":"g","i":130,"v":1.31990},{"g":6,"d":"g","i":132,"v":1.32011},{"g":6,"d":"g","i":134,"v":1.32026},{"g":6,"d":"g","i":136,"v":1.32037},{"g":6,"d":"g","i":138,"v":1.32047},{"g":6,"d":"g","i":139,"v":1.32058},{"g":6,"d":"g","i":140,"v":1.32070},{"g":6,"d":"g","i":141,"v":1.32087},{"g":6,"d":"g","i":142,"v":1.32093},
{"g":7,"d":"r","i":142,"v":1.32093},{"g":7,"d":"r","i":143,"v":1.32091},{"g":7,"d":"r","i":145,"v":1.32060},{"g":7,"d":"r","i":147,"v":1.32016},{"g":7,"d":"r","i":149,"v":1.31959},{"g":7,"d":"r","i":151,"v":1.31906},{"g":7,"d":"r","i":153,"v":1.31852},{"g":7,"d":"r","i":155,"v":1.31797},{"g":7,"d":"r","i":157,"v":1.31743},{"g":7,"d":"r","i":159,"v":1.31692},{"g":7,"d":"r","i":161,"v":1.31644},{"g":7,"d":"r","i":163,"v":1.31617},{"g":7,"d":"r","i":165,"v":1.31604},{"g":7,"d":"r","i":167,"v":1.31598},{"g":7,"d":"r","i":168,"v":1.31598},
{"g":8,"d":"g","i":168,"v":1.31598},{"g":8,"d":"g","i":170,"v":1.31614},{"g":8,"d":"g","i":172,"v":1.31631},{"g":8,"d":"g","i":174,"v":1.31648},{"g":8,"d":"g","i":176,"v":1.31659},{"g":8,"d":"g","i":178,"v":1.31669},{"g":8,"d":"g","i":180,"v":1.31682},{"g":8,"d":"g","i":182,"v":1.31701},{"g":8,"d":"g","i":184,"v":1.31736},{"g":8,"d":"g","i":186,"v":1.31776},{"g":8,"d":"g","i":188,"v":1.31797},{"g":8,"d":"g","i":190,"v":1.31804},
{"g":9,"d":"r","i":190,"v":1.31804},{"g":9,"d":"r","i":192,"v":1.31799},{"g":9,"d":"r","i":194,"v":1.31787},{"g":9,"d":"r","i":196,"v":1.31770},{"g":9,"d":"r","i":198,"v":1.31751},{"g":9,"d":"r","i":200,"v":1.31730},{"g":9,"d":"r","i":202,"v":1.31705},{"g":9,"d":"r","i":204,"v":1.31677},{"g":9,"d":"r","i":206,"v":1.31654},{"g":9,"d":"r","i":208,"v":1.31636},{"g":9,"d":"r","i":210,"v":1.31614},{"g":9,"d":"r","i":212,"v":1.31587},{"g":9,"d":"r","i":214,"v":1.31549},{"g":9,"d":"r","i":216,"v":1.31499},{"g":9,"d":"r","i":218,"v":1.31457},{"g":9,"d":"r","i":220,"v":1.31419},{"g":9,"d":"r","i":222,"v":1.31396},{"g":9,"d":"r","i":224,"v":1.31384},{"g":9,"d":"r","i":225,"v":1.31373},{"g":9,"d":"r","i":227,"v":1.31344},{"g":9,"d":"r","i":229,"v":1.31310},{"g":9,"d":"r","i":231,"v":1.31283},{"g":9,"d":"r","i":233,"v":1.31270},{"g":9,"d":"r","i":234,"v":1.31268},
{"g":10,"d":"g","i":234,"v":1.31268},{"g":10,"d":"g","i":235,"v":1.31272},{"g":10,"d":"g","i":237,"v":1.31304},{"g":10,"d":"g","i":239,"v":1.31375},{"g":10,"d":"g","i":241,"v":1.31478},{"g":10,"d":"g","i":243,"v":1.31596},{"g":10,"d":"g","i":245,"v":1.31682},{"g":10,"d":"g","i":247,"v":1.31747},{"g":10,"d":"g","i":249,"v":1.31804},{"g":10,"d":"g","i":251,"v":1.31846},{"g":10,"d":"g","i":253,"v":1.31869},{"g":10,"d":"g","i":255,"v":1.31879},{"g":10,"d":"g","i":256,"v":1.31881},
{"g":11,"d":"r","i":256,"v":1.31881},{"g":11,"d":"r","i":258,"v":1.31879},{"g":11,"d":"r","i":260,"v":1.31864},{"g":11,"d":"r","i":262,"v":1.31839},{"g":11,"d":"r","i":264,"v":1.31801},{"g":11,"d":"r","i":266,"v":1.31764},{"g":11,"d":"r","i":268,"v":1.31728},{"g":11,"d":"r","i":270,"v":1.31694},{"g":11,"d":"r","i":272,"v":1.31663},{"g":11,"d":"r","i":274,"v":1.31642},{"g":11,"d":"r","i":276,"v":1.31631},{"g":11,"d":"r","i":278,"v":1.31621},{"g":11,"d":"r","i":279,"v":1.31617},
{"g":12,"d":"g","i":279,"v":1.31617},{"g":12,"d":"g","i":281,"v":1.31625},{"g":12,"d":"g","i":283,"v":1.31663},{"g":12,"d":"g","i":285,"v":1.31726},{"g":12,"d":"g","i":287,"v":1.31831},{"g":12,"d":"g","i":289,"v":1.31936},{"g":12,"d":"g","i":291,"v":1.32009},{"g":12,"d":"g","i":293,"v":1.32083},{"g":12,"d":"g","i":295,"v":1.32144},{"g":12,"d":"g","i":297,"v":1.32192},{"g":12,"d":"g","i":299,"v":1.32226},{"g":12,"d":"g","i":301,"v":1.32255},{"g":12,"d":"g","i":303,"v":1.32276},{"g":12,"d":"g","i":305,"v":1.32285},{"g":12,"d":"g","i":306,"v":1.32287},
{"g":13,"d":"r","i":306,"v":1.32287},{"g":13,"d":"r","i":307,"v":1.32287}
],
"signals":[
{"k":"dn","i":22,"v":1.31069},{"k":"dn","i":70,"v":1.32331},{"k":"dn","i":143,"v":1.31942},{"k":"dn","i":191,"v":1.31883},{"k":"dn","i":258,"v":1.31827},{"k":"dn","i":307,"v":1.32301},
{"k":"up","i":19,"v":1.30978},{"k":"up","i":29,"v":1.30917},{"k":"up","i":106,"v":1.31831},{"k":"up","i":168,"v":1.31623},{"k":"up","i":234,"v":1.31329},{"k":"up","i":280,"v":1.31633}
]},
"encoding":{"x":{"field":"i","type":"quantitative","scale":{"domain":[-0.375,307.625],"nice":false,"zero":false,"padding":0},"axis":{"orient":"bottom","title":null,"grid":false,"domain":true,"domainColor":"#8e8e96","tickColor":"#8e8e96","tickSize":3,"labelColor":"#9a9aa4","labelFont":"Liberation Sans","labelFontSize":9.5,"labelAlign":"left","labelBaseline":"top","labelPadding":2,"labelOffset":-1,"labelOverlap":false,"labelFlush":false,"labelBound":false,"values":[0,16,32,48,64,80,96,112,128,144,160,176,192,208,224,240,256,272,288,304],"labelExpr":"['13 Jul 2023','14 Jul 02:30','14 Jul 10:30','14 Jul 18:30','17 Jul 02:30','17 Jul 10:30','17 Jul 18:30','18 Jul 02:30','18 Jul 10:30','18 Jul 18:30','19 Jul 02:30','19 Jul 10:30','19 Jul 18:30','20 Jul 02:30','20 Jul 10:30','20 Jul 18:30','21 Jul 02:30','21 Jul 10:30','21 Jul 18:30','24 Jul 02:30'][round(datum.value/16)]"}},
"y":{"field":"v","type":"quantitative","scale":{"domain":[1.308707,1.325024],"nice":false,"zero":false},"axis":{"orient":"right","title":null,"grid":false,"domain":true,"domainColor":"#8e8e96","tickColor":"#8e8e96","tickSize":4,"labelColor":"#9a9aa4","labelFont":"Liberation Sans","labelFontSize":10,"labelPadding":2,"labelOverlap":false,"labelBound":false,"values":[1.30875,1.30945,1.31015,1.31085,1.31155,1.31225,1.31295,1.31365,1.31435,1.31505,1.31575,1.31645,1.31715,1.31785,1.31855,1.31925,1.31995,1.32065,1.32135,1.32205,1.32275,1.32345,1.32415,1.32485],"format":".5f"}}},
"layer":[
{"data":{"name":"bands"},"mark":{"type":"line","interpolate":"monotone","strokeOpacity":0,"strokeWidth":1,"clip":true},"encoding":{"detail":{"field":"s"}}},
{"data":{"name":"candles"},"mark":{"type":"rule","strokeWidth":1,"clip":true},"encoding":{"y":{"field":"h","type":"quantitative"},"y2":{"field":"l"},"color":{"condition":{"test":"datum.c>datum.o","value":"#c0c0c0"},"value":"#808080"}}},
{"data":{"name":"candles"},"mark":{"type":"bar","size":3,"clip":true},"encoding":{"y":{"field":"o","type":"quantitative"},"y2":{"field":"c"},"color":{"condition":{"test":"datum.c>datum.o","value":"#c0c0c0"},"value":"#808080"}}},
{"data":{"name":"bands"},"mark":{"type":"line","interpolate":"monotone","strokeWidth":1,"color":"#9c9c9c","clip":true},"encoding":{"detail":{"field":"s"},"strokeDash":{"field":"s","type":"nominal","legend":null,"scale":{"domain":["uo","ui","li","lo"],"range":[[1,0],[3,3],[3,3],[1,0]]}}}},
{"data":{"name":"main"},"mark":{"type":"line","interpolate":"monotone","strokeWidth":5,"strokeCap":"round","strokeJoin":"round","clip":true},"encoding":{"detail":{"field":"g"},"color":{"field":"d","type":"nominal","legend":null,"scale":{"domain":["r","g"],"range":["#ff0000","#00ff00"]}}}},
{"data":{"name":"signals"},"mark":{"type":"point","shape":"circle","filled":true,"size":140,"opacity":1,"clip":true},"encoding":{"fill":{"field":"k","type":"nominal","legend":null,"scale":{"domain":["dn","up"],"range":["#dc143c","#006400"]}}}},
{"data":{"name":"signals"},"transform":[{"filter":"datum.k=='up'"}],"mark":{"type":"point","shape":"M-0.28,1L-0.28,-0.1L-0.6,-0.1L0,-0.8L0.6,-0.1L0.28,-0.1L0.28,1Z","filled":true,"size":140,"opacity":1,"color":"white","clip":true}},
{"data":{"name":"signals"},"transform":[{"filter":"datum.k=='dn'"}],"mark":{"type":"point","shape":"M-0.28,-1L-0.28,0.1L-0.6,0.1L0,0.8L0.6,0.1L0.28,0.1L0.28,-1Z","filled":true,"size":140,"opacity":1,"color":"white","clip":true}}
]}
